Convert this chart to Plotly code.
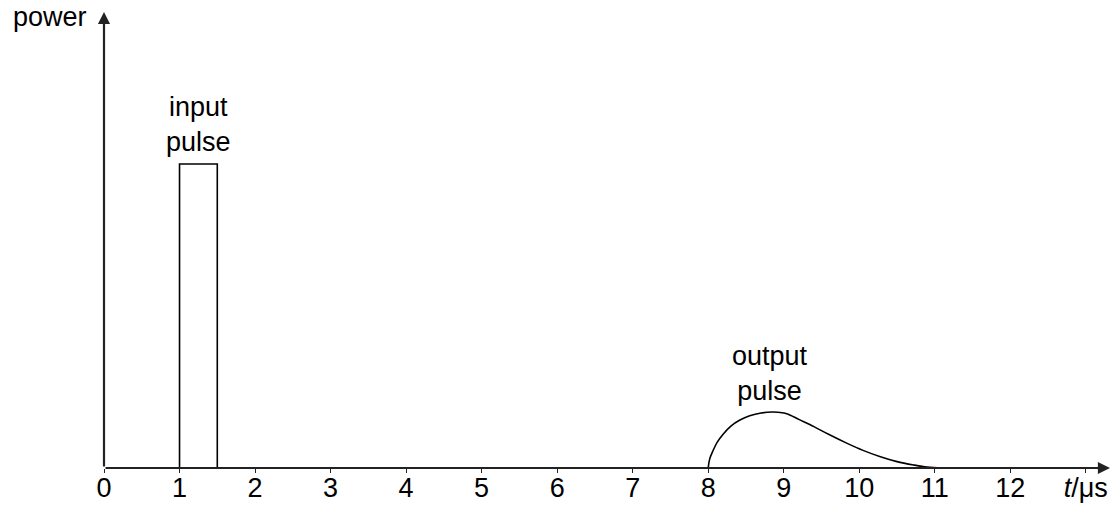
import plotly.graph_objects as go

# Input pulse (rectangle) outline
input_t = [1.0, 1.0, 1.5, 1.5]
input_p = [0.0, 10.0, 10.0, 0.0]

# Output pulse
output_t = [8.0, 8.02, 8.06, 8.12, 8.2, 8.3, 8.42, 8.55, 8.7, 8.85, 8.98, 9.05, 9.2, 9.4,
            9.6, 9.84, 10.05, 10.28, 10.5, 10.72, 10.9, 11.1]
output_p = [0.0, 0.3, 0.55, 0.85, 1.12, 1.38, 1.58, 1.72, 1.81, 1.84, 1.82, 1.78, 1.6, 1.36,
            1.1, 0.81, 0.58, 0.37, 0.21, 0.10, 0.03, 0.0]

tick_vals = list(range(0, 14))
tick_text = [str(v) for v in range(0, 13)] + ["<i>t</i>/μs"]

FONT = "Liberation Sans, Arial, sans-serif"
FS = 27

fig = go.Figure()
fig.add_trace(go.Scatter(x=input_t, y=input_p, mode="lines",
                         line=dict(color="black", width=1.6), hoverinfo="skip"))
fig.add_trace(go.Scatter(x=output_t, y=output_p, mode="lines",
                         line=dict(color="black", width=1.6, shape="spline", smoothing=1.0),
                         hoverinfo="skip"))

# axes arrows
fig.add_annotation(x=13.32, y=0, ax=0, ay=0, xref="x", yref="y", axref="x", ayref="y",
                   showarrow=True, arrowhead=2, arrowsize=1.1, arrowwidth=2.2, arrowcolor="#222", text="")
fig.add_annotation(x=0, y=15.0, ax=0, ay=0, xref="x", yref="y", axref="x", ayref="y",
                   showarrow=True, arrowhead=2, arrowsize=1.1, arrowwidth=2.2, arrowcolor="#222", text="")

fig.add_annotation(x=1.25, y=11.3, xref="x", yref="y", text="input<br>pulse", showarrow=False,
                   font=dict(family=FONT, size=FS, color="black"), yanchor="middle")
fig.add_annotation(x=8.82, y=3.12, xref="x", yref="y", text="output<br>pulse", showarrow=False,
                   font=dict(family=FONT, size=FS, color="black"), yanchor="middle")
fig.add_annotation(x=-0.0537, y=1.0263, xref="paper", yref="paper", text="power", showarrow=False,
                   font=dict(family=FONT, size=FS, color="black"), xanchor="center", yanchor="top")

fig.update_layout(
    width=1117, height=509,
    margin=dict(l=104, r=7, t=12, b=41),
    paper_bgcolor="white", plot_bgcolor="white",
    showlegend=False,
    font=dict(family=FONT, size=FS, color="black"),
)
fig.update_xaxes(range=[0, 13.32], tickmode="array", tickvals=tick_vals, ticktext=tick_text,
                 ticks="outside", ticklen=4, tickwidth=1, tickcolor="#222",
                 ticklabelstandoff=-8,
                 showgrid=False, zeroline=False, showline=False, automargin=False,
                 tickfont=dict(family=FONT, size=FS, color="black"), fixedrange=True)
fig.update_yaxes(range=[0, 15.0], showticklabels=False, ticks="", showgrid=False,
                 zeroline=False, showline=False, fixedrange=True, automargin=False)

fig.write_html("out.html", config={"displayModeBar": False},
               post_script="document.body.style.margin='0';")
